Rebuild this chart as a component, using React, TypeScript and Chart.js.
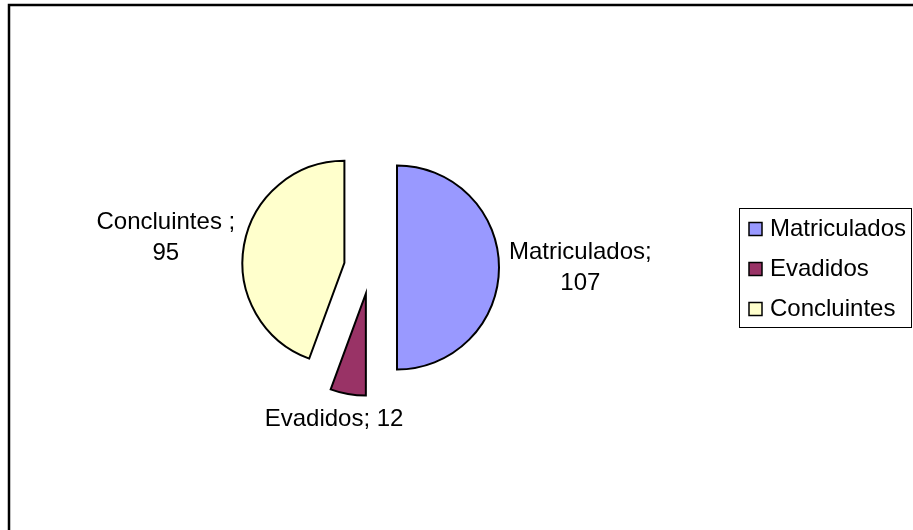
import React, { useEffect, useRef } from "react";
import { Chart, registerables } from "chart.js";

Chart.register(...registerables);

// ---- data ----
const categories = ["Matriculados", "Evadidos", "Concluintes "];
const values = [107, 12, 95];
const colors = ["#9999FF", "#993366", "#FFFFCC"];

// ---- style ----
const FONT = '"Liberation Sans", Arial, Helvetica, sans-serif';
const FONT_SIZE = 24;
const EXPLODE = 26.5;
const RADIUS = 102;
const LABEL_GAP = 10;
const LINE_H = 31;
const WRAP_WIDTH = 150;

const explodePlugin = {
  id: "explodeSlices",
  afterDatasetsUpdate(chart: any) {
    const meta = chart.getDatasetMeta(0);
    meta.data.forEach((arc: any) => {
      const mid = (arc.startAngle + arc.endAngle) / 2;
      arc.x += Math.cos(mid) * EXPLODE;
      arc.y += Math.sin(mid) * EXPLODE;
    });
  },
};

const labelPlugin = {
  id: "sliceLabels",
  afterDatasetsDraw(chart: any) {
    const ctx = chart.ctx;
    const meta = chart.getDatasetMeta(0);
    const labels = chart.data.labels as string[];
    const data = chart.data.datasets[0].data as number[];
    ctx.save();
    ctx.font = `${FONT_SIZE}px ${FONT}`;
    ctx.fillStyle = "#000";
    ctx.textAlign = "center";
    ctx.textBaseline = "middle";
    meta.data.forEach((arc: any, i: number) => {
      const mid = (arc.startAngle + arc.endAngle) / 2;
      const dx = Math.cos(mid);
      const dy = Math.sin(mid);
      const full = `${labels[i]}; ${data[i]}`;
      let lines = [full];
      if (ctx.measureText(full).width > WRAP_WIDTH) {
        lines = [`${labels[i]};`, `${data[i]}`];
      }
      const w = Math.max(...lines.map((l) => ctx.measureText(l).width));
      const h = lines.length * LINE_H;
      const r = arc.outerRadius + LABEL_GAP;
      const px = arc.x + dx * r;
      const py = arc.y + dy * r;
      const cx = px + dx * (w / 2);
      const cy = py + dy * (h / 2);
      lines.forEach((l, k) => {
        ctx.fillText(l, cx, cy - h / 2 + LINE_H * (k + 0.5));
      });
    });
    ctx.restore();
  },
};

const legendPlugin = {
  id: "boxLegend",
  afterDraw(chart: any) {
    const ctx = chart.ctx;
    const labels = chart.data.labels as string[];
    const bg = chart.data.datasets[0].backgroundColor as string[];
    const left = 739, top = 208, width = 173, height = 120;
    ctx.save();
    ctx.strokeStyle = "#000";
    ctx.lineWidth = 1;
    ctx.strokeRect(left + 0.5, top + 0.5, width - 1, height - 1);
    const rowH = height / labels.length;
    ctx.font = `${FONT_SIZE}px ${FONT}`;
    ctx.textAlign = "left";
    ctx.textBaseline = "alphabetic";
    labels.forEach((lab, i) => {
      const cy = top + rowH * (i + 0.5) + 1;
      ctx.fillStyle = bg[i];
      ctx.fillRect(749, cy - 6.5, 13, 13);
      ctx.lineWidth = 1.5;
      ctx.strokeStyle = "#000";
      ctx.strokeRect(749, cy - 6.5, 13, 13);
      ctx.fillStyle = "#000";
      ctx.fillText(lab.trim(), 770, cy + 7);
    });
    ctx.restore();
  },
};

const framePlugin = {
  id: "outerFrame",
  afterDraw(chart: any) {
    const ctx = chart.ctx;
    ctx.save();
    ctx.strokeStyle = "#000";
    ctx.lineWidth = 2.5;
    ctx.strokeRect(9, 5, chart.width + 20, chart.height + 20);
    ctx.restore();
  },
};

export default function App() {
  const ref = useRef<HTMLCanvasElement>(null);
  useEffect(() => {
    const chart = new Chart(ref.current as HTMLCanvasElement, {
      type: "pie",
      data: {
        labels: categories,
        datasets: [
          {
            data: values,
            backgroundColor: colors,
            borderColor: "#000",
            borderWidth: 2,
            borderJoinStyle: "miter",
            radius: RADIUS,
          } as any,
        ],
      },
      options: {
        responsive: false,
        animation: false,
        events: [],
        layout: { padding: { left: 0, right: 172, top: 5, bottom: 0 } },
        plugins: {
          legend: { display: false },
          tooltip: { enabled: false },
        },
      },
      plugins: [explodePlugin, labelPlugin, legendPlugin, framePlugin],
    });
    return () => chart.destroy();
  }, []);
  return (
    <canvas
      ref={ref}
      width={913}
      height={530}
      style={{ position: "absolute", left: 0, top: 0, width: 913, height: 530, display: "block" }}
    />
  );
}
